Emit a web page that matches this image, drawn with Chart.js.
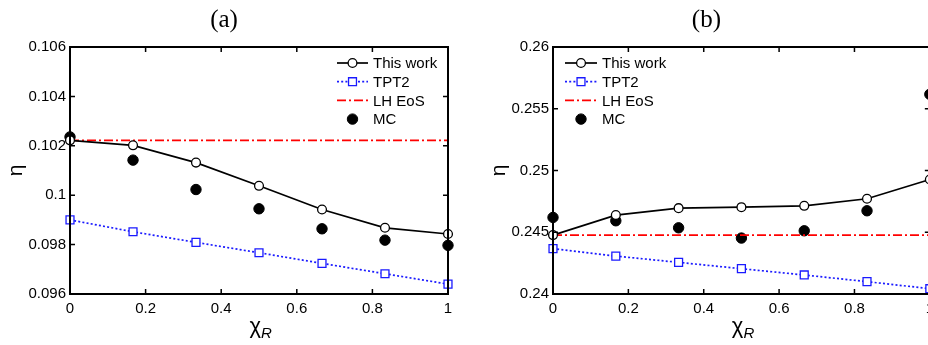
<!DOCTYPE html>
<html>
<head>
<meta charset="utf-8">
<script src="https://cdn.jsdelivr.net/npm/chart.js@4.4.1/dist/chart.umd.min.js"></script>
<style>
  html, body { margin: 0; padding: 0; background: #fff; }
  #wrap { position: relative; width: 928px; height: 345px; overflow: hidden; }
  #chartA { position: absolute; left: 0; top: 0; }
  #chartB { position: absolute; left: 460px; top: 0; }
</style>
</head>
<body>
<div id="wrap">
  <canvas id="chartA" width="460" height="345"></canvas>
  <canvas id="chartB" width="480" height="345"></canvas>
</div>
<script>
// x values (chi_R)
const chiR = [0, 0.1667, 0.3333, 0.5, 0.6667, 0.8333, 1];
const xTicks = [0, 0.2, 0.4, 0.6, 0.8, 1];

// panel (a)
const workA = [0.10222, 0.10202, 0.10132, 0.10038, 0.09942, 0.09868, 0.09843];
const tpt2A = [0.09900, 0.09852, 0.09809, 0.09767, 0.09724, 0.09682, 0.09640];
const lhEosA = 0.10222;
const mcA = [0.10236, 0.10142, 0.10023, 0.09945, 0.09864, 0.09818, 0.09797];
const yTicksA = [0.096, 0.098, 0.1, 0.102, 0.104, 0.106];

// panel (b)
const workB = [0.24477, 0.24639, 0.24695, 0.24703, 0.24714, 0.24771, 0.24927];
const tpt2B = [0.24367, 0.24307, 0.24256, 0.24205, 0.24154, 0.24100, 0.24043];
const lhEosB = 0.24477;
const mcB = [0.24620, 0.24593, 0.24536, 0.24453, 0.24512, 0.24674, 0.25617];
const yTicksB = [0.24, 0.245, 0.25, 0.255, 0.26];

const FONT = "'Liberation Sans', Arial, sans-serif";

function pairs(values) {
  return chiR.map((x, i) => ({ x: x, y: values[i] }));
}

function fmt(v) {
  return String(Number(v.toFixed(4)));
}

// matlab-like box, inward ticks, title, axis labels and legend
const matlabAxes = {
  id: "matlabAxes",
  afterDraw(chart, args, opts) {
    const ctx = chart.ctx;
    const area = chart.chartArea;
    const xs = chart.scales.x;
    const ys = chart.scales.y;
    ctx.save();
    ctx.strokeStyle = "#000";
    ctx.lineWidth = 2;
    ctx.strokeRect(area.left, area.top, area.right - area.left, area.bottom - area.top);
    ctx.lineWidth = 1.5;
    ctx.beginPath();
    xTicks.forEach((v) => {
      const px = xs.getPixelForValue(v);
      ctx.moveTo(px, area.bottom);
      ctx.lineTo(px, area.bottom - 5);
      ctx.moveTo(px, area.top);
      ctx.lineTo(px, area.top + 5);
    });
    opts.yTicks.forEach((v) => {
      const py = ys.getPixelForValue(v);
      ctx.moveTo(area.left, py);
      ctx.lineTo(area.left + 5, py);
      ctx.moveTo(area.right, py);
      ctx.lineTo(area.right - 5, py);
    });
    ctx.stroke();

    // title
    ctx.fillStyle = "#000";
    ctx.textAlign = "center";
    ctx.textBaseline = "middle";
    ctx.font = "25px 'Liberation Serif', 'Times New Roman', serif";
    ctx.fillText(opts.title, (area.left + area.right) / 2 + opts.titleShift, 20);

    // y label
    ctx.save();
    ctx.translate(opts.yLabelX, (area.top + area.bottom) / 2);
    ctx.rotate(-Math.PI / 2);
    ctx.font = "21px " + FONT;
    ctx.fillText("\u03b7", 0, 0);
    ctx.restore();

    // x label with subscript
    const cx = (area.left + area.right) / 2;
    ctx.font = "22px " + FONT;
    ctx.textAlign = "right";
    ctx.fillText("\u03c7", cx + 2, 327);
    ctx.font = "italic 15px " + FONT;
    ctx.textAlign = "left";
    ctx.fillText("R", cx + 2, 334);

    // legend
    const lg = opts.legend;
    chart.data.datasets.forEach((ds, i) => {
      const y = lg.y + i * lg.rowH;
      const x0 = lg.x;
      const x1 = lg.x + lg.lineLen;
      if (ds.showLine) {
        ctx.save();
        ctx.strokeStyle = ds.borderColor;
        ctx.lineWidth = ds.borderWidth;
        ctx.setLineDash(ds.borderDash || []);
        ctx.beginPath();
        ctx.moveTo(x0, y);
        ctx.lineTo(x1, y);
        ctx.stroke();
        ctx.restore();
      }
      if (ds.pointRadius > 0) {
        ctx.save();
        ctx.fillStyle = ds.pointBackgroundColor;
        ctx.strokeStyle = ds.pointBorderColor;
        ctx.lineWidth = ds.pointBorderWidth;
        ctx.beginPath();
        if (ds.pointStyle === "rect") {
          const s = ds.pointRadius * Math.SQRT1_2;
          ctx.rect((x0 + x1) / 2 - s, y - s, 2 * s, 2 * s);
        } else {
          ctx.arc((x0 + x1) / 2, y, ds.pointRadius, 0, Math.PI * 2);
        }
        ctx.fill();
        ctx.stroke();
        ctx.restore();
      }
      ctx.fillStyle = "#000";
      ctx.font = "15px " + FONT;
      ctx.textAlign = "left";
      ctx.textBaseline = "middle";
      ctx.fillText(ds.label, x1 + 5, y + 1);
    });
    ctx.restore();
  }
};

function datasets(work, tpt2, lh, mc) {
  return [
    {
      label: "This work",
      data: pairs(work),
      showLine: true,
      borderColor: "#000",
      borderWidth: 1.7,
      pointStyle: "circle",
      pointRadius: 4.4,
      pointBorderWidth: 1.3,
      pointBorderColor: "#000",
      pointBackgroundColor: "#fff",
      clip: false
    },
    {
      label: "TPT2",
      data: pairs(tpt2),
      showLine: true,
      borderColor: "#1a1aff",
      borderWidth: 1.7,
      borderDash: [2, 2.2],
      pointStyle: "rect",
      pointRadius: 5.6,
      pointBorderWidth: 1.3,
      pointBorderColor: "#1a1aff",
      pointBackgroundColor: "#fff",
      clip: false
    },
    {
      label: "LH EoS",
      data: [{ x: chiR[0], y: lh }, { x: chiR[chiR.length - 1], y: lh }],
      showLine: true,
      borderColor: "#ff0000",
      borderWidth: 1.7,
      borderDash: [9, 3, 2, 3],
      pointRadius: 0,
      clip: false
    },
    {
      label: "MC",
      data: pairs(mc),
      showLine: false,
      pointStyle: "circle",
      pointRadius: 5.2,
      pointBorderWidth: 1,
      pointBorderColor: "#000",
      pointBackgroundColor: "#000",
      clip: false
    }
  ];
}

function makeChart(id, sets, yMin, yMax, yStep, yTicks, o) {
  return new Chart(document.getElementById(id), {
    type: "scatter",
    data: { datasets: sets },
    options: {
      responsive: false,
      animation: false,
      devicePixelRatio: 1,
      layout: { padding: { left: 0, top: 47, right: o.padRight, bottom: 0 } },
      scales: {
        x: {
          type: "linear",
          min: 0,
          max: 1,
          grid: { display: false, drawTicks: false },
          border: { display: false },
          afterFit: (s) => { s.height = 51; },
          ticks: {
            stepSize: 0.2,
            padding: 6,
            color: "#000",
            font: { family: FONT, size: 15 },
            maxRotation: 0,
            callback: (v) => fmt(v)
          }
        },
        y: {
          type: "linear",
          min: yMin,
          max: yMax,
          grid: { display: false, drawTicks: false },
          border: { display: false },
          afterFit: (s) => { s.width = o.yWidth; },
          ticks: {
            stepSize: yStep,
            padding: 4,
            color: "#000",
            font: { family: FONT, size: 15 },
            callback: (v) => fmt(v)
          }
        }
      },
      plugins: {
        legend: { display: false },
        tooltip: { enabled: false },
        matlabAxes: {
          title: o.title,
          titleShift: o.titleShift,
          yLabelX: o.yLabelX,
          yTicks: yTicks,
          legend: o.legend
        }
      }
    },
    plugins: [matlabAxes]
  });
}

makeChart("chartA", datasets(workA, tpt2A, lhEosA, mcA), 0.096, 0.106, 0.002, yTicksA, {
  padRight: 12,
  yWidth: 70,
  title: "(a)",
  titleShift: -35,
  yLabelX: 16,
  legend: { x: 337, y: 63, rowH: 18.7, lineLen: 31 }
});

makeChart("chartB", datasets(workB, tpt2B, lhEosB, mcB), 0.24, 0.26, 0.005, yTicksB, {
  padRight: 9,
  yWidth: 93,
  title: "(b)",
  titleShift: -35,
  yLabelX: 39,
  legend: { x: 105, y: 63, rowH: 18.7, lineLen: 32 }
});
</script>
</body>
</html>
